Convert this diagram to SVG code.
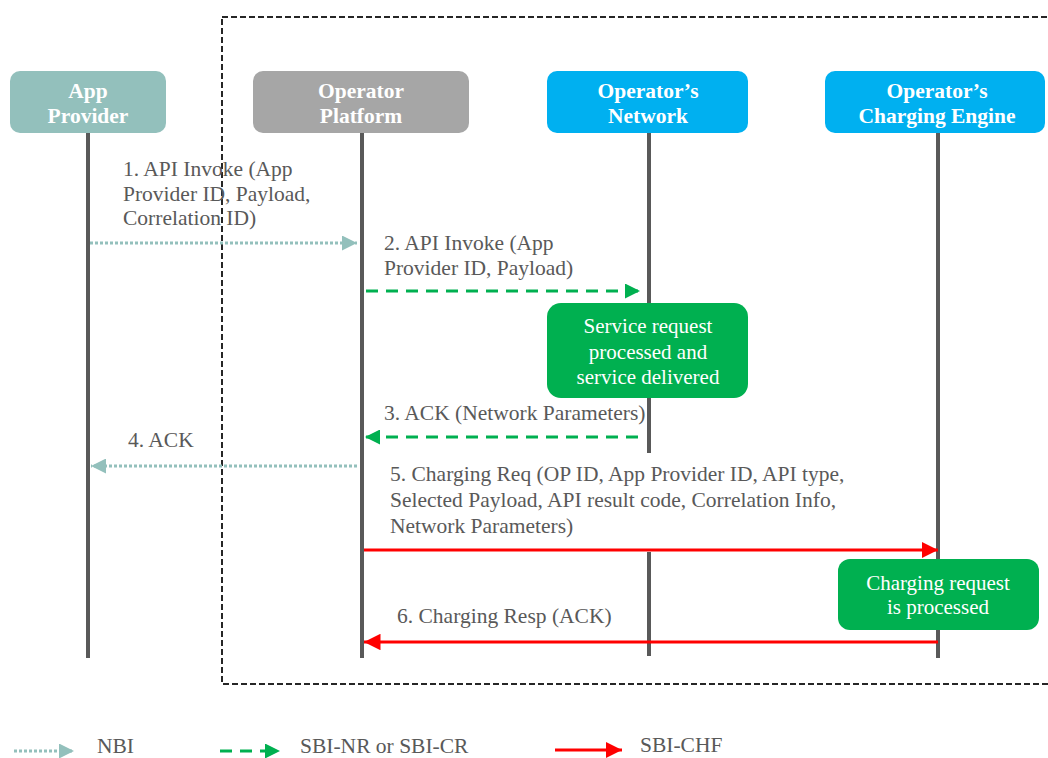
<svg xmlns="http://www.w3.org/2000/svg" width="1048" height="758" viewBox="0 0 1048 758">
<style>
.hdr{font-family:"Liberation Serif","Times New Roman",serif;font-weight:bold;font-size:21.5px;fill:#fff;text-anchor:middle}
.msg{font-family:"Liberation Serif","Times New Roman",serif;font-size:21.5px;fill:#595959}
.box{font-family:"Liberation Serif","Times New Roman",serif;font-size:21px;fill:#fff;text-anchor:middle}
.life{stroke:#595959;stroke-width:4}
.nbi{stroke:#93C0BC;stroke-width:3;stroke-dasharray:3 2;fill:none}
.sbi{stroke:#00B050;stroke-width:3;stroke-dasharray:12 8;fill:none}
.chf{stroke:#FF0000;stroke-width:3;fill:none}
</style>
<defs>
<marker id="mNbi" viewBox="0 0 10 10" refX="10" refY="5" markerWidth="5" markerHeight="5" orient="auto" markerUnits="strokeWidth"><path d="M0,0 L10,5 L0,10 z" fill="#93C0BC"/></marker>
<marker id="mSbi" viewBox="0 0 10 10" refX="10" refY="5" markerWidth="5" markerHeight="5" orient="auto" markerUnits="strokeWidth"><path d="M0,0 L10,5 L0,10 z" fill="#00B050"/></marker>
<marker id="mChf" viewBox="0 0 10 10" refX="10" refY="5" markerWidth="5.5" markerHeight="5.5" orient="auto" markerUnits="strokeWidth"><path d="M0,0 L10,5 L0,10 z" fill="#FF0000"/></marker>
</defs>
<rect width="1048" height="758" fill="#fff"/>
<rect id="boundary" x="222" y="17" width="840" height="667" fill="none" stroke="#262626" stroke-width="2" stroke-dasharray="6 3"/>
<g id="lifelines">
<line class="life" x1="88" y1="133" x2="88" y2="658"/>
<line class="life" x1="362" y1="133" x2="362" y2="658"/>
<line class="life" x1="649" y1="133" x2="649" y2="453"/>
<line class="life" x1="649" y1="552" x2="649" y2="656"/>
<line class="life" x1="938" y1="133" x2="938" y2="658"/>
</g>
<g id="app-provider">
<rect x="10" y="71" width="156" height="62" rx="10" fill="#93C0BC"/>
<text class="hdr" x="88" y="98">App</text>
<text class="hdr" x="88" y="123">Provider</text>
</g>
<g id="operator-platform">
<rect x="253" y="71" width="216" height="62" rx="10" fill="#A6A6A6"/>
<text class="hdr" x="361" y="98">Operator</text>
<text class="hdr" x="361" y="123">Platform</text>
</g>
<g id="operator-network">
<rect x="547" y="71" width="201" height="62" rx="10" fill="#00B0F0"/>
<text class="hdr" x="648" y="98">Operator’s</text>
<text class="hdr" x="648" y="123">Network</text>
</g>
<g id="charging-engine">
<rect x="825" y="71" width="220" height="62" rx="10" fill="#00B0F0"/>
<text class="hdr" x="937" y="98">Operator’s</text>
<text class="hdr" x="937" y="123">Charging Engine</text>
</g>
<g id="service-processed">
<rect x="547" y="303" width="201" height="95" rx="14" fill="#00B050"/>
<text class="box" x="648" y="333">Service request</text>
<text class="box" x="648" y="359">processed and</text>
<text class="box" x="648" y="384">service delivered</text>
</g>
<g id="charging-processed">
<rect x="838" y="559" width="201" height="71" rx="12" fill="#00B050"/>
<text class="box" x="938" y="590">Charging request</text>
<text class="box" x="938" y="614">is processed</text>
</g>
<g id="connectors">
<line class="nbi" x1="90" y1="243" x2="357" y2="243" marker-end="url(#mNbi)"/>
<line class="sbi" x1="366" y1="291" x2="640" y2="291" marker-end="url(#mSbi)"/>
<line class="sbi" x1="638" y1="437" x2="365" y2="437" marker-end="url(#mSbi)"/>
<line class="nbi" x1="357" y1="466" x2="91" y2="466" marker-end="url(#mNbi)"/>
<line class="chf" x1="364" y1="550" x2="938" y2="550" marker-end="url(#mChf)"/>
<line class="chf" x1="938" y1="642" x2="364" y2="642" marker-end="url(#mChf)"/>
</g>
<g id="labels">
<text class="msg" x="123" y="176">1. API Invoke (App</text>
<text class="msg" x="123" y="201">Provider ID, Payload,</text>
<text class="msg" x="123" y="225">Correlation ID)</text>
<text class="msg" x="384" y="250">2. API Invoke (App</text>
<text class="msg" x="384" y="275">Provider ID, Payload)</text>
<text class="msg" x="384" y="420">3. ACK (Network Parameters)</text>
<text class="msg" x="128" y="447">4. ACK</text>
<text class="msg" x="390" y="481">5. Charging Req (OP ID, App Provider ID, API type,</text>
<text class="msg" x="390" y="507">Selected Payload, API result code, Correlation Info,</text>
<text class="msg" x="390" y="533">Network Parameters)</text>
<text class="msg" x="397" y="623">6. Charging Resp (ACK)</text>
</g>
<g id="legend">
<line class="nbi" x1="14" y1="751" x2="74" y2="751" marker-end="url(#mNbi)"/>
<text class="msg" x="97" y="753">NBI</text>
<line class="sbi" x1="220" y1="751" x2="280" y2="751" marker-end="url(#mSbi)"/>
<text class="msg" x="300" y="753">SBI-NR or SBI-CR</text>
<line class="chf" x1="555" y1="750" x2="622" y2="750" marker-end="url(#mChf)"/>
<text class="msg" x="640" y="752">SBI-CHF</text>
</g>
</svg>
